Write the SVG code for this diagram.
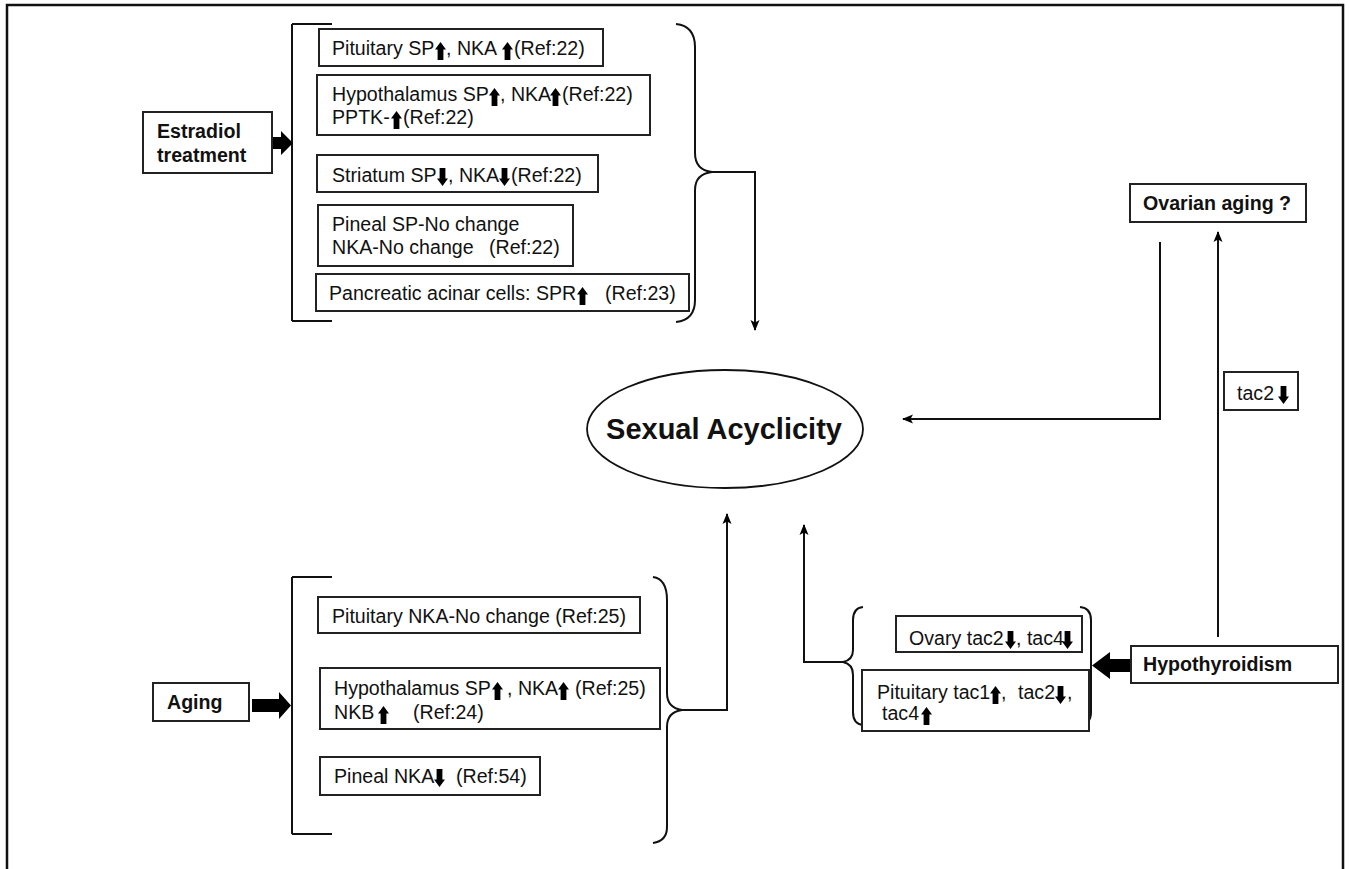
<svg xmlns="http://www.w3.org/2000/svg" xmlns:xlink="http://www.w3.org/1999/xlink" width="1350" height="869" viewBox="0 0 1350 869">
<style>
.t{font-family:"Liberation Sans",Arial,sans-serif;font-size:19.6px;fill:#111}
.b{font-weight:bold}
.box{fill:#fff;stroke:#222;stroke-width:2}
.ln{fill:none;stroke:#111;stroke-width:2}
.ar{fill:none;stroke:#111;stroke-width:2;marker-end:url(#ah)}
.thick{fill:#000}
</style>
<defs>
<marker id="ah" markerUnits="userSpaceOnUse" markerWidth="11" markerHeight="10" refX="10" refY="5" orient="auto">
<path d="M0,0.5 L11,5 L0,9.5 L2.5,5 z" fill="#000"/>
</marker>
<symbol id="up" viewBox="0 0 11 18"><polygon points="5.5,0 11,7.5 8.4,7.5 8.4,18 2.6,18 2.6,7.5 0,7.5" fill="#000"/></symbol>
<symbol id="dn" viewBox="0 0 11 18"><polygon points="5.5,18 11,10.5 8.4,10.5 8.4,0 2.6,0 2.6,10.5 0,10.5" fill="#000"/></symbol>
</defs>
<rect width="1350" height="869" fill="#fff"/>
<path d="M7,869 V5 H1343 V869" fill="none" stroke="#111" stroke-width="2.5"/>

<g id="connectors">
<path class="ln" d="M292,24 V321 M292,24 H332 M292,321 H332"/>
<path class="ln" d="M676,24 Q695,26 695,47 L695,153 Q695,170 712,172 Q695,174 695,190 L695,300 Q695,320 676,322"/>
<path class="ar" d="M712,172 H755 V330"/>
<polygon class="thick" points="253,137 281,137 281,131 293,143 281,155 281,149 253,149"/>
<path class="ln" d="M292,577 V834 M292,577 H332 M292,834 H332"/>
<path class="ln" d="M653,577 Q667,579 667,600 L667,693 Q667,708 682,710 Q667,712 667,727 L667,827 Q667,841 653,843"/>
<path class="ar" d="M682,710 H727 V514"/>
<polygon class="thick" points="252,699 279,699 279,692 291,705.5 279,719 279,712 252,712"/>
<path class="ln" d="M863,607 Q853,608 853,620 L853,650 Q853,660 843,662 Q853,664 853,675 L853,712 Q853,724 863,725"/>
<path class="ln" d="M1080,607 Q1091,608 1091,620 L1091,712 Q1091,724 1080,725"/>
<path class="ar" d="M843,662 H804 V525"/>
<polygon class="thick" points="1131,659 1110,659 1110,652 1092,665.5 1110,679 1110,672 1131,672"/>
<path class="ar" d="M1218,637 V232"/>
<path class="ar" d="M1160,242 V419 H903"/>
</g>

<g id="estradiol">
<rect class="box" x="143" y="112" width="129" height="61"/>
<text class="t b" x="157" y="138">Estradiol</text>
<text class="t b" x="157" y="162">treatment</text>
</g>

<g id="e-pituitary">
<rect class="box" x="319" y="29" width="284" height="37"/>
<text class="t" x="332" y="55">Pituitary SP<tspan x="446">, NKA </tspan><tspan x="514">(Ref:22)</tspan></text>
<use href="#up" x="435" y="42" width="11" height="18"/>
<use href="#up" x="502" y="42" width="11" height="18"/>
</g>

<g id="e-hypothalamus">
<rect class="box" x="317" y="75" width="333" height="60"/>
<text class="t" x="332" y="101">Hypothalamus SP<tspan x="500">, NKA</tspan><tspan x="562">(Ref:22)</tspan></text>
<text class="t" x="332" y="124">PPTK-<tspan x="403">(Ref:22)</tspan></text>
<use href="#up" x="489" y="88" width="11" height="18"/>
<use href="#up" x="550" y="88" width="11" height="18"/>
<use href="#up" x="391" y="111" width="11" height="18"/>
</g>

<g id="e-striatum">
<rect class="box" x="317" y="155" width="281" height="37"/>
<text class="t" x="332" y="182">Striatum SP<tspan x="448">, NKA</tspan><tspan x="511">(Ref:22)</tspan></text>
<use href="#dn" x="437" y="168" width="11" height="18"/>
<use href="#dn" x="499" y="168" width="11" height="18"/>
</g>

<g id="e-pineal">
<rect class="box" x="318" y="205" width="255" height="61"/>
<text class="t" x="332" y="231">Pineal SP-No change</text>
<text class="t" x="332" y="254">NKA-No change<tspan x="489">(Ref:22)</tspan></text>
</g>

<g id="e-pancreatic">
<rect class="box" x="316" y="274" width="373" height="37"/>
<text class="t" x="329" y="300">Pancreatic acinar cells: SPR<tspan x="605">(Ref:23)</tspan></text>
<use href="#up" x="577" y="287" width="11" height="18"/>
</g>

<g id="sexual-acyclicity">
<ellipse cx="725" cy="429" rx="138" ry="59" fill="#fff" stroke="#111" stroke-width="1.8"/>
<text class="t b" x="724" y="439" text-anchor="middle" style="font-size:29px">Sexual Acyclicity</text>
</g>

<g id="ovarian-aging">
<rect class="box" x="1130" y="184" width="176" height="38"/>
<text class="t b" x="1143" y="210">Ovarian aging ?</text>
</g>

<g id="tac2-label">
<rect class="box" x="1224" y="372" width="74" height="38"/>
<text class="t" x="1237" y="400">tac2</text>
<use href="#dn" x="1278" y="386" width="11" height="18"/>
</g>

<g id="aging">
<rect class="box" x="153" y="683" width="96" height="38"/>
<text class="t b" x="167" y="709">Aging</text>
</g>

<g id="a-pituitary">
<rect class="box" x="318" y="597" width="322" height="36"/>
<text class="t" x="332" y="623">Pituitary NKA-No change (Ref:25)</text>
</g>

<g id="a-hypothalamus">
<rect class="box" x="320" y="668" width="340" height="61"/>
<text class="t" x="334" y="695">Hypothalamus SP<tspan x="507">, NKA</tspan><tspan x="575">(Ref:25)</tspan></text>
<text class="t" x="334" y="719">NKB<tspan x="413">(Ref:24)</tspan></text>
<use href="#up" x="492" y="682" width="11" height="18"/>
<use href="#up" x="558" y="682" width="11" height="18"/>
<use href="#up" x="378" y="706" width="11" height="18"/>
</g>

<g id="a-pineal">
<rect class="box" x="320" y="757" width="220" height="38"/>
<text class="t" x="334" y="783">Pineal NKA<tspan x="456">(Ref:54)</tspan></text>
<use href="#dn" x="434" y="769" width="11" height="18"/>
</g>

<g id="hypothyroidism">
<rect class="box" x="1131" y="646" width="207" height="37"/>
<text class="t b" x="1143" y="671">Hypothyroidism</text>
</g>

<g id="h-ovary">
<rect class="box" x="896" y="616" width="186" height="36"/>
<text class="t" x="909" y="645">Ovary tac2<tspan x="1016">, tac4</tspan></text>
<use href="#dn" x="1005" y="631" width="11" height="18"/>
<use href="#dn" x="1062" y="631" width="11" height="18"/>
</g>

<g id="h-pituitary">
<rect class="box" x="862" y="670" width="227" height="61"/>
<text class="t" x="877" y="699">Pituitary tac1<tspan x="1001">,</tspan><tspan x="1018">tac2</tspan><tspan x="1067">,</tspan></text>
<text class="t" x="882" y="720">tac4</text>
<use href="#up" x="990" y="686" width="11" height="18"/>
<use href="#dn" x="1055" y="686" width="11" height="18"/>
<use href="#up" x="921" y="707" width="11" height="18"/>
</g>
</svg>
